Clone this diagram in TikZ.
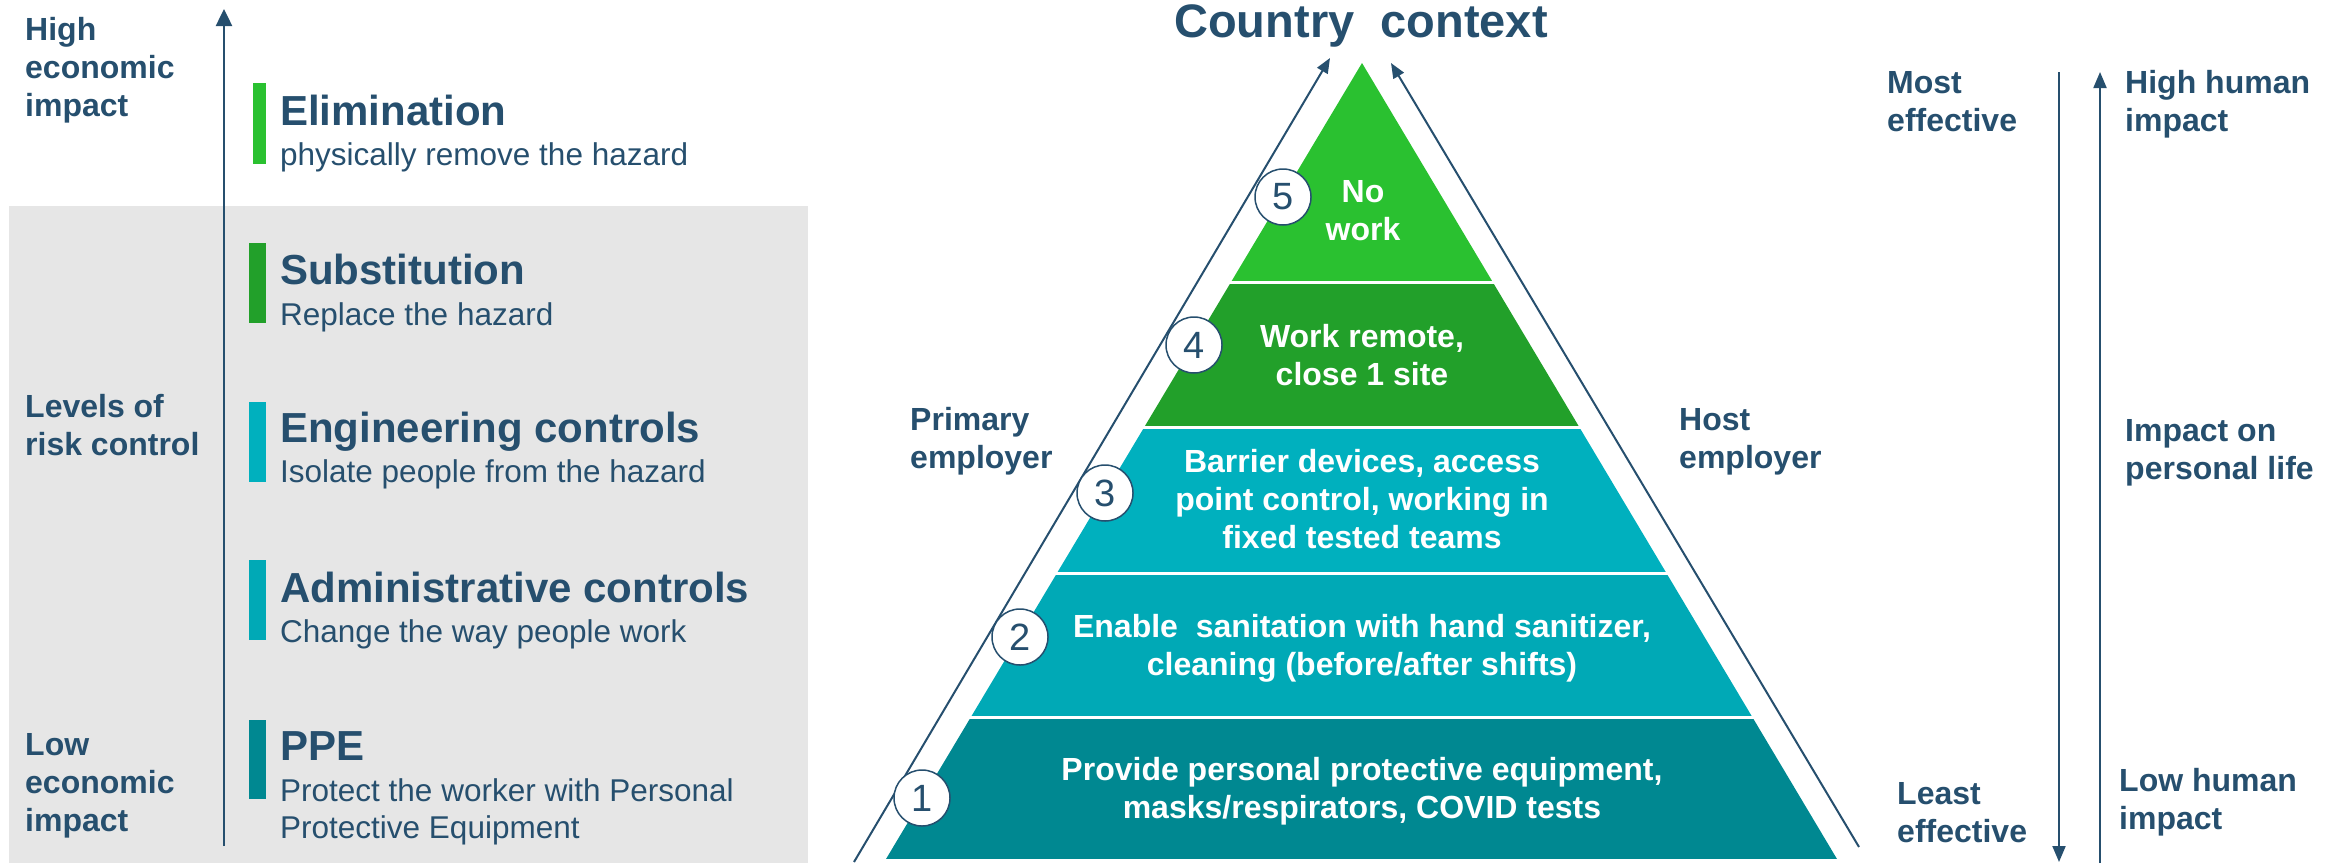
\documentclass[tikz,border=0pt]{standalone}
\usepackage{fontspec}
\setmainfont{Liberation Sans}
\usetikzlibrary{arrows.meta}
\definecolor{txt}{HTML}{264F6E}
\definecolor{lfive}{HTML}{2AC130}
\definecolor{lfour}{HTML}{22A02A}
\definecolor{lthree}{HTML}{00B0BE}
\definecolor{ltwo}{HTML}{00A9B6}
\definecolor{lone}{HTML}{008891}
\definecolor{panel}{HTML}{E6E6E6}
\newcommand{\mlines}[2]{\begin{tabular}[t]{@{}#1@{}}#2\end{tabular}}
\tikzset{
  lbl/.style={anchor=base west, inner sep=0pt, text=txt, font=\fontsize{32}{38}\selectfont\bfseries},
  ttl/.style={anchor=base west, inner sep=0pt, text=txt, font=\fontsize{42}{48}\selectfont\bfseries},
  sub/.style={anchor=base west, inner sep=0pt, text=txt, font=\fontsize{31.5}{37}\selectfont},
  ptxt/.style={anchor=base, inner sep=0pt, text=white, font=\fontsize{32}{38}\selectfont\bfseries},
  num/.style={circle, draw=txt, line width=1.5pt, fill=white, minimum size=56pt, inner sep=0pt, text=txt, font=\fontsize{38}{40}\selectfont},
  bigarrow/.style={draw=txt, line width=2.5pt, -{Triangle[width=16pt,length=17pt]}},
  diagarrow/.style={draw=txt, line width=2pt, -{Triangle[width=12pt,length=15pt]}},
  sidearrow/.style={draw=txt, line width=2pt, -{Triangle[width=13pt,length=16pt]}},
}
\begin{document}
\begin{tikzpicture}[x=1pt,y=-1pt]
\useasboundingbox (0,0) rectangle (2341,863);
% left panel background
\fill[panel] (9,206) rectangle (808,863);
% left axis
\coordinate (la0) at (224,846);
\coordinate (la1) at (224,9);
\draw[bigarrow] (la0) -- (la1);
% bars
\fill[lfive] (253,83) rectangle (266,164);
\fill[lfour] (249,243) rectangle (266,323);
\fill[lthree] (249,402) rectangle (266,482);
\fill[ltwo] (249,560) rectangle (266,640);
\fill[lone] (249,720) rectangle (266,799);
% titles
\node[ttl] (t1) at (280,125) {Elimination};
\node[sub] (s1) at (280,165) {physically remove the hazard};
\node[ttl] (t2) at (280,284) {Substitution};
\node[sub] (s2) at (280,325) {Replace the hazard};
\node[ttl] (t3) at (280,442) {Engineering controls};
\node[sub] (s3) at (280,482) {Isolate people from the hazard};
\node[ttl] (t4) at (280,602) {Administrative controls};
\node[sub] (s4) at (280,642) {Change the way people work};
\node[ttl] (t5) at (280,760) {PPE};
\node[sub] (s5) at (280,801) {\mlines{l}{Protect the worker with Personal\\Protective Equipment}};
% left labels
\node[lbl] (hi) at (25,40) {\mlines{l}{High\\economic\\impact}};
\node[lbl] (lv) at (25,417) {\mlines{l}{Levels of\\risk control}};
\node[lbl] (lo) at (25,755) {\mlines{l}{Low\\economic\\impact}};
% pyramid
\coordinate (apex) at (1362,63);
\coordinate (bl) at (886,859);
\coordinate (br) at (1837,859);
\begin{scope}
\clip (apex) -- (bl) -- (br) -- cycle;
\fill[lfive] (850,50) rectangle (1880,281);
\fill[lfour] (850,283.5) rectangle (1880,426);
\fill[lthree] (850,428.5) rectangle (1880,572);
\fill[ltwo] (850,574.5) rectangle (1880,716);
\fill[lone] (850,718.5) rectangle (1880,859);
\end{scope}
% side arrows of pyramid
\coordinate (pa0) at (854,862);
\coordinate (pa1) at (1330,58);
\coordinate (ha0) at (1859,847);
\coordinate (ha1) at (1391,63);
\draw[diagarrow] (pa0) -- (pa1);
\draw[diagarrow] (ha0) -- (ha1);
% title
\node[anchor=base, inner sep=0pt, text=txt, font=\fontsize{47}{52}\selectfont\bfseries] (cc) at (1361,37) {Country~~context};
% pyramid texts
\node[ptxt] (p5) at (1363,202) {\mlines{c}{No\\work}};
\node[ptxt] (p4) at (1362,347) {\mlines{c}{Work remote,\\close 1 site}};
\node[ptxt] (p3) at (1362,472) {\mlines{c}{Barrier devices, access\\point control, working in\\fixed tested teams}};
\node[ptxt] (p2) at (1362,637) {\mlines{c}{Enable~~sanitation with hand sanitizer,\\cleaning (before/after shifts)}};
\node[ptxt] (p1) at (1362,780) {\mlines{c}{Provide personal protective equipment,\\masks/respirators, COVID tests}};
% numbers
\node[num] (n5) at (1283,197) {5};
\node[num] (n4) at (1194,345) {4};
\node[num] (n3) at (1105,493) {3};
\node[num] (n2) at (1020,637) {2};
\node[num] (n1) at (922,798) {1};
% employer labels
\node[lbl] (pe) at (910,430) {\mlines{l}{Primary\\employer}};
\node[lbl] (he) at (1679,430) {\mlines{l}{Host\\employer}};
% right side
\coordinate (ea0) at (2059,72);
\coordinate (ea1) at (2059,862);
\coordinate (ia0) at (2100,863);
\coordinate (ia1) at (2100,72);
\draw[sidearrow] (ea0) -- (ea1);
\draw[sidearrow] (ia0) -- (ia1);
\node[lbl] (me) at (1887,93) {\mlines{l}{Most\\effective}};
\node[lbl] (le) at (1897,804) {\mlines{l}{Least\\effective}};
\node[lbl] (hh) at (2125,93) {\mlines{l}{High human\\impact}};
\node[lbl] (ip) at (2125,441) {\mlines{l}{Impact on\\personal life}};
\node[lbl] (lh) at (2119,791) {\mlines{l}{Low human\\impact}};
\end{tikzpicture}
\end{document}
